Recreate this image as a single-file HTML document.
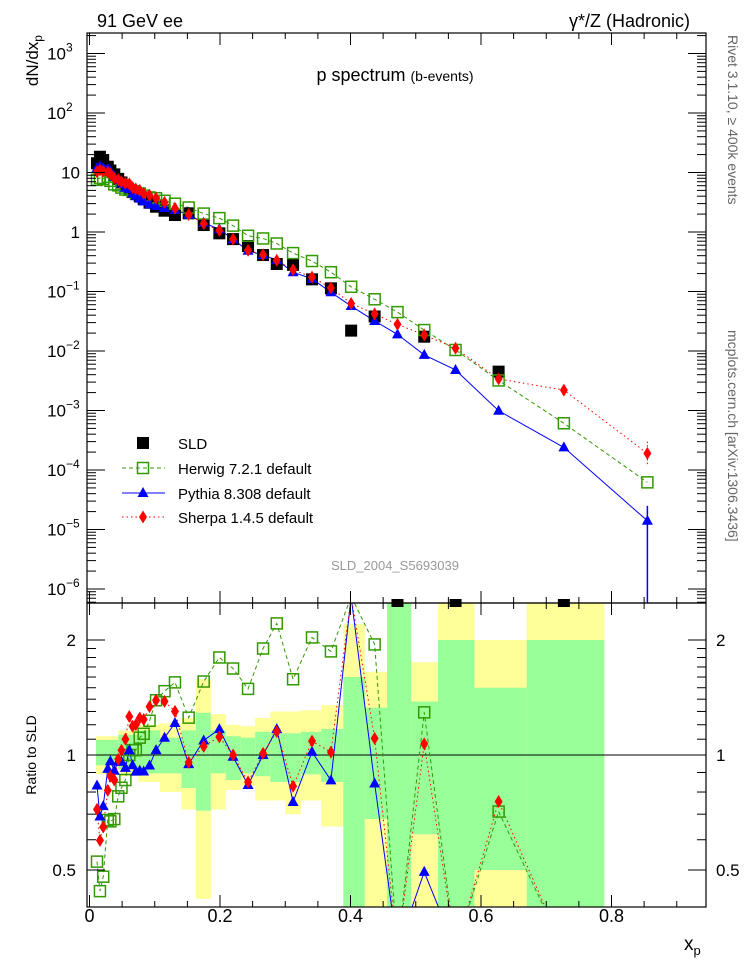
<!DOCTYPE html>
<html><head><meta charset="utf-8"><style>
html,body{margin:0;padding:0;background:#fff;overflow:hidden;width:746px;height:972px;}
svg{display:block;overflow:hidden;}
svg text{font-family:"Liberation Sans",sans-serif;}
</style></head><body>
<svg id="chart" width="746" height="972" viewBox="0 0 746 972" xmlns="http://www.w3.org/2000/svg">
<defs>
<clipPath id="clipMain"><rect x="87" y="33" width="619" height="570"/></clipPath>
<clipPath id="clipRatio"><rect x="87" y="603" width="619" height="304"/></clipPath>
</defs>
<g id="bands" clip-path="url(#clipRatio)"></g>
<g id="ratio" clip-path="url(#clipRatio)"></g>
<g id="main" clip-path="url(#clipMain)"></g>
<g id="axes"></g>
<text x="97" y="27" font-size="18">91 GeV ee</text>
<text x="690" y="27" font-size="18" text-anchor="end">γ*/Z (Hadronic)</text>
<text x="395" y="81" text-anchor="middle"><tspan font-size="18">p spectrum </tspan><tspan font-size="14">(b-events)</tspan></text>
<text x="395" y="570" text-anchor="middle" font-size="13" fill="#999">SLD_2004_S5693039</text>
<text transform="translate(38,35) rotate(-90)" text-anchor="end" font-size="17">dN/dx<tspan font-size="12" dy="4">p</tspan></text>
<text transform="translate(36,907) rotate(-90)" x="152" font-size="14" text-anchor="middle">Ratio to SLD</text>
<text x="684" y="950" font-size="19">x<tspan font-size="13" dy="5">p</tspan></text>
<text transform="translate(728,35) rotate(90)" font-size="14" fill="#666">Rivet 3.1.10, ≥ 400k events</text>
<text transform="translate(728,330) rotate(90)" font-size="14" fill="#666">mcplots.cern.ch [arXiv:1306.3436]</text>
<g id="legend"></g>
</svg>
<script>
const xs=[0.0115,0.016,0.021,0.028,0.032,0.038,0.044,0.049,0.055,0.061,0.066,0.071,0.077,0.083,0.092,0.102,0.115,0.131,0.152,0.175,0.199,0.220,0.243,0.266,0.287,0.312,0.341,0.370,0.401,0.437,0.472,0.513,0.561,0.627,0.727,0.855];
const sld=[14.3,18.4,16.2,12.5,10.8,9.3,7.8,6.8,6.0,5.1,4.7,4.4,4.0,3.6,3.1,2.66,2.28,1.93,2.06,1.31,0.95,0.76,0.58,0.41,0.29,0.28,0.16,0.113,0.022,0.038,null,0.0174,null,0.0045,null,null];
const herwig=[7.52,8.1,7.78,8.45,7.24,6.32,6.08,5.58,5.16,5.1,4.84,4.53,4.44,4.09,3.81,3.70,3.35,2.99,2.58,2.04,1.71,1.28,0.864,0.779,0.641,0.442,0.325,0.211,0.12,0.074,0.045,0.0225,0.0104,0.0032,0.00061,0.000062];
const pythia=[11.9,12.7,11.9,11.5,10.4,8.46,7.49,6.53,5.55,5.25,4.42,3.98,3.64,3.26,2.91,2.74,2.53,2.34,1.95,1.43,1.11,0.752,0.484,0.41,0.339,0.211,0.163,0.097,0.057,0.032,0.019,0.0086,0.0048,0.00099,0.00024,0.000014];
const sherpa=[10.3,11.0,10.5,10.1,9.5,8.0,7.6,7.0,6.6,6.43,5.59,5.28,5.0,4.46,4.15,3.70,3.15,2.51,1.97,1.38,1.06,0.76,0.493,0.414,0.334,0.232,0.174,0.115,0.063,0.042,0.028,0.0186,0.0111,0.0034,0.0022,0.00019];
const binEdges=[0.01,0.044,0.075,0.108,0.141,0.163,0.186,0.209,0.232,0.254,0.277,0.30,0.324,0.355,0.389,0.422,0.456,0.493,0.534,0.59,0.67,0.789];
const statLo=[0.94,0.92,0.895,0.895,0.82,0.715,0.895,0.86,0.895,0.88,0.85,0.85,0.89,0.85,0.39,0.68,0.39,0.62,0.39,0.5,0.39];
const statHi=[1.095,1.13,1.16,1.11,1.16,1.29,1.16,1.12,1.11,1.15,1.14,1.14,1.15,1.17,1.6,1.33,2.6,1.38,2.0,1.5,2.0];
const totLo=[0.89,0.88,0.85,0.80,0.72,0.42,0.72,0.81,0.83,0.76,0.76,0.70,0.76,0.65,0.39,0.39,0.39,0.39,0.39,0.39,0.39];
const totHi=[1.12,1.16,1.2,1.21,1.25,1.58,1.28,1.2,1.19,1.25,1.3,1.3,1.31,1.35,2.2,1.65,2.6,1.75,2.6,2.0,2.6];
const yTicks=[3,2,1,0,-1,-2,-3,-4,-5,-6];
const yTickLabels=["10","10","10","1","10","10","10","10","10","10"];
const yTickExp=["3","2","","","−1","−2","−3","−4","−5","−6"];
const xTicks=[0,0.2,0.4,0.6,0.8];
const xTickLabels=["0","0.2","0.4","0.6","0.8"];
const rTicks=[2,1,0.5];
const rTickLabels=["2","1","0.5"];

const NS="http://www.w3.org/2000/svg";
const X=v=>89.5+652.5*v;
const Y=v=>232-59.5*Math.log10(v);
const R=v=>755-382*Math.log10(v);
function mk(tag,attrs,parent){const e=document.createElementNS(NS,tag);for(const k in attrs)e.setAttribute(k,attrs[k]);parent.appendChild(e);return e;}
const gB=document.getElementById('bands'),gR=document.getElementById('ratio'),gM=document.getElementById('main'),gA=document.getElementById('axes'),gL=document.getElementById('legend');

for(let i=0;i<statLo.length;i++){
  const x0=X(binEdges[i]),x1=X(binEdges[i+1]);
  let e=mk('rect',{x:x0,y:R(totHi[i]),width:x1-x0,height:R(totLo[i])-R(totHi[i]),fill:'#ffff99'},gB);
  
  
  e=mk('rect',{x:x0,y:R(statHi[i]),width:x1-x0,height:R(statLo[i])-R(statHi[i]),fill:'#99ff99'},gB);
  
  
}
let ln=mk('line',{x1:87,x2:706,y1:R(1),y2:R(1),stroke:'#000','stroke-width':1},gB);



function marker(type,cx,cy,parent,name){
  let e;
  if(type==='sq') e=mk('rect',{x:cx-6,y:cy-6,width:12,height:12,fill:'#000'},parent);
  else if(type==='osq') e=mk('rect',{x:cx-5.5,y:cy-5.5,width:11,height:11,fill:'none',stroke:'#339900','stroke-width':1.5},parent);
  else if(type==='tri') e=mk('polygon',{points:`${cx},${cy-6} ${cx+5.5},${cy+4} ${cx-5.5},${cy+4}`,fill:'#0000ff'},parent);
  else e=mk('polygon',{points:`${cx},${cy-6.5} ${cx+4},${cy} ${cx},${cy+6.5} ${cx-4},${cy}`,fill:'#ff0000'},parent);
  
  
}
const series=[
  {d:herwig,c:'#339900',dash:'4,3',m:'osq',n:'herwig'},
  {d:pythia,c:'#0000ff',dash:'',m:'tri',n:'pythia'},
  {d:sherpa,c:'#ff0000',dash:'1.5,3',m:'dia',n:'sherpa'}
];
series.forEach(s=>{
  const pts=s.d.map((v,i)=>X(xs[i])+','+Y(v)).join(' ');
  const p=mk('polyline',{points:pts,fill:'none',stroke:s.c,'stroke-width':1,'stroke-dasharray':s.dash},gM);
  
  
});
sld.forEach((v,i)=>{ if(v!==null) marker('sq',X(xs[i]),Y(v),gM,'sld-point'); });
series.forEach(s=>{ s.d.forEach((v,i)=>marker(s.m,X(xs[i]),Y(v),gM,s.n+'-point')); });
let eb=mk('line',{x1:X(xs[35]),x2:X(xs[35]),y1:Y(0.000025),y2:603,stroke:'#0000ff','stroke-width':1.5},gM);


eb=mk('line',{x1:X(xs[35]),x2:X(xs[35]),y1:Y(0.0003),y2:Y(0.00012),stroke:'#ff0000','stroke-width':1,'stroke-dasharray':'1.5,2'},gM);


sld.forEach((v,i)=>{ if(v===null && i<35){ const e=mk('rect',{x:X(xs[i])-6,y:599,width:12,height:8,fill:'#000'},gA);
  
  }});
series.forEach(s=>{
  const rv=[];
  for(let i=0;i<35;i++){ rv.push(sld[i]===null?0.31:Math.min(2.6,Math.max(0.31,s.d[i]/sld[i]))); }
  const pts=rv.map((v,i)=>X(xs[i])+','+R(v)).join(' ');
  const p=mk('polyline',{points:pts,fill:'none',stroke:s.c,'stroke-width':1,'stroke-dasharray':s.dash},gR);
  
  
  s.rv=rv;
});
series.forEach(s=>{ s.rv.forEach((v,i)=>{ if(sld[i]!==null && v>0.4 && v<2.5) marker(s.m,X(xs[i]),R(v),gR,s.n+'-ratio-point'); }); });

let fr=mk('rect',{x:87,y:33,width:619,height:570,fill:'none',stroke:'#000','stroke-width':1.2},gA);


fr=mk('rect',{x:87,y:603,width:619,height:304,fill:'none',stroke:'#000','stroke-width':1.2},gA);


function tick(x1,y1,x2,y2){const t=mk('line',{x1,y1,x2,y2,stroke:'#000','stroke-width':1},gA);
  
  }
for(let k=0;k<=18;k++){const v=k*0.05;const x=X(v);if(x>706)break;const L=(k%4===0)?12:6;
  tick(x,603,x,603-L);tick(x,33,x,33+L);tick(x,907,x,907-L);tick(x,603,x,603+L);}
xTicks.forEach((v,i)=>{const t=mk('text',{x:X(v),y:922,'font-size':18,'text-anchor':'middle'},gA);t.textContent=xTickLabels[i];
  
  });
yTicks.forEach((p,i)=>{const y=Y(Math.pow(10,p));tick(87,y,105,y);tick(706,y,688,y);
  for(let m=2;m<10;m++){const ym=Y(m*Math.pow(10,p));if(ym>33&&ym<603){tick(87,ym,96,ym);tick(706,ym,697,ym);}}
  const t=mk('text',{x:yTickExp[i]?66:80,y:y+6,'font-size':17,'text-anchor':'end'},gA);
  t.textContent=yTickLabels[i];
  
  
  if(yTickExp[i]){const e=mk('text',{x:66,y:y-2,'font-size':12},gA);e.textContent=yTickExp[i];
    
    }
});
for(let m=6;m<10;m++){const ym=Y(m*1e-7);if(ym<603){tick(87,ym,96,ym);tick(706,ym,697,ym);}}
[0.4,0.5,0.6,0.7,0.8,0.9,1,1.1,1.2,1.3,1.4,1.5,1.6,1.7,1.8,1.9,2,2.5].forEach(v=>{const y=R(v);if(y<603||y>907)return;const L=(v===0.5||v===1||v===2)?18:9;tick(87,y,87+L,y);tick(706,y,706-L,y);});
rTicks.forEach((v,i)=>{let t=mk('text',{x:76,y:R(v)+6,'font-size':17,'text-anchor':'end'},gA);t.textContent=rTickLabels[i];
  
  
  t=mk('text',{x:716,y:R(v)+6,'font-size':17},gA);t.textContent=rTickLabels[i];
  
  });
const leg=[{t:'SLD',m:'sq',c:'#000',dash:null,y:443},{t:'Herwig 7.2.1 default',m:'osq',c:'#339900',dash:'4,3',y:468},{t:'Pythia 8.308 default',m:'tri',c:'#0000ff',dash:'',y:493},{t:'Sherpa 1.4.5 default',m:'dia',c:'#ff0000',dash:'1.5,3',y:517}];
leg.forEach(l=>{
  if(l.dash!==null){const p=mk('line',{x1:122,x2:165,y1:l.y,y2:l.y,stroke:l.c,'stroke-width':1,'stroke-dasharray':l.dash},gL);
    
    }
  marker(l.m,143,l.y,gL,'legend-marker');
  const t=mk('text',{x:178,y:l.y+6,'font-size':15},gL);t.textContent=l.t;
  
  
});
</script>
</body></html>
